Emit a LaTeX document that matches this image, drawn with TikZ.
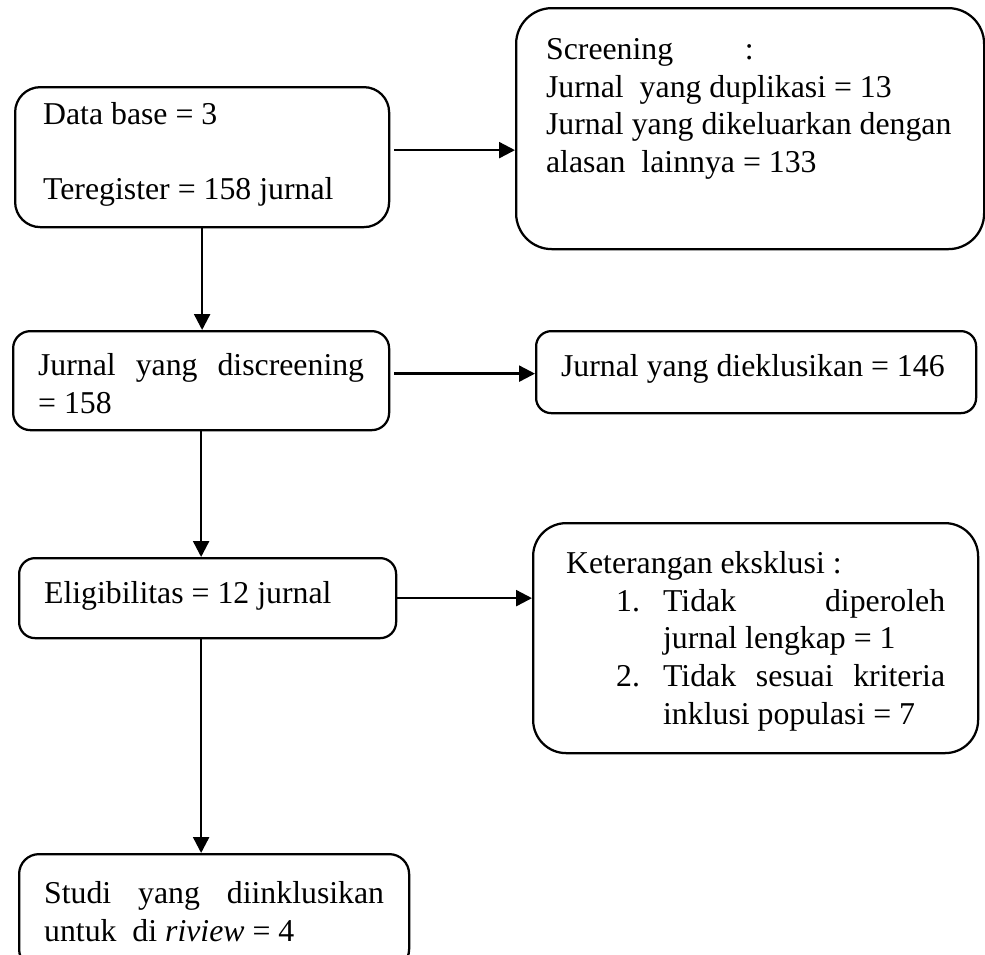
\documentclass[tikz,border=0pt]{standalone}
\usepackage{fontspec}
\setmainfont{Liberation Serif}
\usetikzlibrary{arrows.meta}
\newdimen\px
\px=0.3774pt
\newcommand{\boxtext}[3]{\parbox[c][#2\px][t]{#1\px}{#3}}

\begin{document}
\begin{tikzpicture}[x=0.3774pt, y=-0.3774pt,
    flowbox/.style={draw, line width=0.85pt, anchor=north west, inner sep=0pt,
        font=\fontsize{12}{14.3}\selectfont},
    flowline/.style={line width=0.9pt, -{Triangle[length=6pt, width=6pt]}}]
    \useasboundingbox (0,0) rectangle (985,955);
    \clip (0,0) rectangle (985,955);
    \node [flowbox, rounded corners=9.5pt, inner xsep=28\px, inner ysep=15\px] (dbase) at (14,86)
        {\boxtext{318}{110}{\raggedright Data base = 3\\[14.3pt] Teregister = 158 jurnal}};
    \node [flowbox, rounded corners=13.5pt, inner xsep=30\px, inner ysep=30\px] (screen) at (515,7)
        {\boxtext{408}{181}{\raggedright\makebox[75pt][l]{Screening}:\\ Jurnal\ \ yang duplikasi = 13\\
        Jurnal yang dikeluarkan dengan\\ alasan\ \ lainnya = 133}};
    \node [flowbox, rounded corners=6.5pt, inner xsep=25\px, inner ysep=22\px] (screened) at (12,330)
        {\boxtext{326}{55}{Jurnal yang discreening\linebreak = 158}};
    \node [flowbox, rounded corners=5.7pt, inner xsep=25\px, inner ysep=23\px] (excluded) at (535,330)
        {\boxtext{390}{36}{\raggedright Jurnal yang dieklusikan = 146}};
    \node [flowbox, rounded corners=6pt, inner xsep=25\px, inner ysep=23\px] (eligible) at (18,557)
        {\boxtext{327}{34}{\raggedright Eligibilitas = 12 jurnal}};
    \node [flowbox, rounded corners=12.5pt, inner xsep=33\px, inner ysep=28\px] (reasons) at (532,522)
        {\boxtext{379}{174}{Keterangan eksklusi :\par
        {\hangindent=97\px \hangafter=0 \noindent\llap{\makebox[47\px][l]{1.}}Tidak diperoleh\linebreak jurnal lengkap = 1\par}
        {\hangindent=97\px \hangafter=0 \noindent\llap{\makebox[47\px][l]{2.}}Tidak sesuai kriteria\linebreak inklusi populasi = 7\par}}};
    \node [flowbox, rounded corners=7.5pt, inner xsep=25\px, inner ysep=27\px] (included) at (18,853)
        {\boxtext{340}{61}{Studi yang diinklusikan\linebreak untuk\ \ di \textit{riview} = 4}};
    \draw [flowline] (dbase.south) -- (dbase.south |- screened.north);
    \draw [flowline] (screened.south) -- (screened.south |- eligible.north);
    \draw [flowline] (screened.south |- eligible.south) -- (screened.south |- included.north);
    \draw [flowline] ([xshift=4\px,yshift=7\px]dbase.east) -- ([yshift=7\px]dbase.east -| screen.west);
    \draw [flowline] ([xshift=4\px,yshift=7\px]screened.east) -- ([yshift=7\px]screened.east -| excluded.west);
    \draw [flowline] (eligible.east) -- (eligible.east -| reasons.west);
\end{tikzpicture}
\end{document}
